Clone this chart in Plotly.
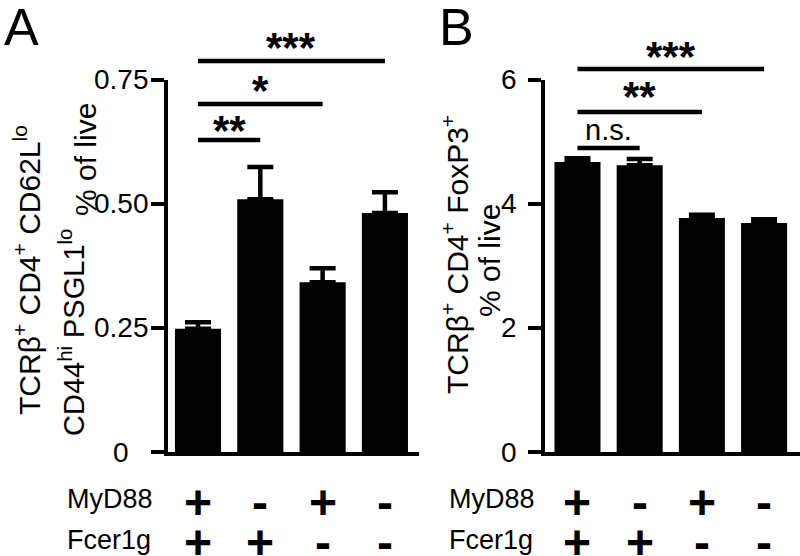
import plotly.graph_objects as go

W, H = 800, 556

# ---- data ----
groups = [0, 1, 2, 3]
myd88 = ["+", "-", "+", "-"]
fcer1g = ["+", "+", "-", "-"]

a_mean = [0.248, 0.509, 0.342, 0.481]
a_sem = [0.013, 0.065, 0.028, 0.042]
b_mean = [4.67, 4.62, 3.77, 3.69]
b_sem = [0.06, 0.10, 0.05, 0.06]

a_ticks = [0, 0.25, 0.5, 0.75]
a_ticktext = ["0", "0.25", "0.50", "0.75"]
b_ticks = [0, 2, 4, 6]
b_ticktext = ["0", "2", "4", "6"]

a_sig_pairs = [(0, 1), (0, 2), (0, 3)]
a_sig_text = ["**", "*", "***"]
b_sig_pairs = [(0, 1), (0, 2), (0, 3)]
b_sig_text = ["n.s.", "**", "***"]

FONT = "Liberation Sans, Arial, Helvetica, sans-serif"


def px(x):
    return x / W


def py(y):
    return 1 - y / H


fig = go.Figure()

for mean, sem, xa, ya in [(a_mean, a_sem, "x", "y"), (b_mean, b_sem, "x2", "y2")]:
    fig.add_trace(go.Bar(
        x=groups, y=mean, width=0.74, xaxis=xa, yaxis=ya,
        marker=dict(color="black", line=dict(width=0)),
        error_y=dict(type="data", symmetric=False, array=sem,
                     arrayminus=[0] * len(sem), color="black",
                     thickness=4.5, width=13),
        hoverinfo="skip",
    ))

ydom = [py(452), py(79.5)]
axis_common = dict(showgrid=False, zeroline=False, showline=True,
                   linecolor="black", linewidth=4, fixedrange=True)

fig.update_layout(
    width=W, height=H,
    margin=dict(l=0, r=0, t=0, b=0),
    paper_bgcolor="white", plot_bgcolor="white",
    showlegend=False,
    font=dict(family=FONT, color="black"),
    xaxis=dict(domain=[px(168), px(419)], range=[-0.4815, 3.547],
               showticklabels=False, ticks="", anchor="y", **axis_common),
    yaxis=dict(domain=ydom, range=[0, 0.75], anchor="x",
               tickvals=a_ticks, ticks="outside", ticklen=13, tickwidth=4,
               tickcolor="black", showticklabels=False, **axis_common),
    xaxis2=dict(domain=[px(545), 1.0], range=[-0.522, 3.577],
                showticklabels=False, ticks="", anchor="y2", **axis_common),
    yaxis2=dict(domain=ydom, range=[0, 6], anchor="x2",
                tickvals=b_ticks, ticks="outside", ticklen=13, tickwidth=4,
                tickcolor="black", showticklabels=False, **axis_common),
)

ann = []
shapes = []

# tick labels (centered, as in the reference)
for v, t in zip(a_ticks, a_ticktext):
    ann.append(dict(x=px(121), y=v, xref="paper", yref="y", text=t,
                    showarrow=False, xanchor="center", yanchor="middle",
                    font=dict(size=28)))
for v, t in zip(b_ticks, b_ticktext):
    ann.append(dict(x=px(509), y=v, xref="paper", yref="y2", text=t,
                    showarrow=False, xanchor="center", yanchor="middle",
                    font=dict(size=28)))


# significance lines
def sig(pairs, texts, xref, line_y, text_y, sizes):
    for (i, j), t, ly, ty, s in zip(pairs, texts, line_y, text_y, sizes):
        shapes.append(dict(type="line", xref=xref, yref="paper",
                           x0=groups[i], x1=groups[j], y0=py(ly), y1=py(ly),
                           line=dict(color="black", width=4.5)))
        bold = t != "n.s."
        ann.append(dict(x=(groups[i] + groups[j]) / 2, y=py(ty), xref=xref,
                        yref="paper", text=t,
                        showarrow=False, xanchor="center", yanchor="middle",
                        font=dict(size=s, weight="bold" if bold else "normal")))


sig(a_sig_pairs, a_sig_text, "x", [140, 104, 61], [130, 90, 47], [42, 42, 42])
sig(b_sig_pairs, b_sig_text, "x2", [148, 112, 69], [130, 96, 56], [29, 42, 42])

# panel letters
ann.append(dict(x=px(21), y=py(27), xref="paper", yref="paper", text="A",
                showarrow=False, xanchor="center", yanchor="middle",
                height=46, font=dict(size=52)))
ann.append(dict(x=px(456.5), y=py(27), xref="paper", yref="paper", text="B",
                showarrow=False, xanchor="center", yanchor="middle",
                height=46, font=dict(size=52)))

# y axis titles
TS = 30
ann.append(dict(x=px(27), y=py(270), xref="paper", yref="paper",
                text="TCRβ<sup>+</sup> CD4<sup>+</sup> CD62L<sup>lo</sup>",
                textangle=-90, showarrow=False, xanchor="center",
                yanchor="middle", font=dict(size=TS)))
ann.append(dict(x=px(72), y=py(333), xref="paper", yref="paper",
                text="CD44<sup>hi</sup> PSGL1<sup>lo</sup>",
                textangle=-90, showarrow=False, xanchor="center",
                yanchor="middle", font=dict(size=29)))
ann.append(dict(x=px(85), y=py(160), xref="paper", yref="paper",
                text="% of live", textangle=-90, showarrow=False,
                xanchor="center", yanchor="middle", font=dict(size=TS)))
ann.append(dict(x=px(455), y=py(255), xref="paper", yref="paper",
                text="TCRβ<sup>+</sup> CD4<sup>+</sup> FoxP3<sup>+</sup>",
                textangle=-90, showarrow=False, xanchor="center",
                yanchor="middle", font=dict(size=TS)))
ann.append(dict(x=px(489), y=py(260), xref="paper", yref="paper",
                text="% of live", textangle=-90, showarrow=False,
                xanchor="center", yanchor="middle", font=dict(size=TS)))

# genotype table
for left, xref in [(65, "x"), (447, "x2")]:
    ann.append(dict(x=px(left), y=py(499), xref="paper", yref="paper",
                    text="MyD88", showarrow=False, xanchor="left",
                    yanchor="middle", font=dict(size=27)))
    ann.append(dict(x=px(left), y=py(540), xref="paper", yref="paper",
                    text="Fcer1g", showarrow=False, xanchor="left",
                    yanchor="middle", font=dict(size=27)))
    for g, m, f in zip(groups, myd88, fcer1g):
        ann.append(dict(x=g, y=py(502), xref=xref, yref="paper",
                        text=m, showarrow=False, height=38,
                        xanchor="center", yanchor="middle",
                        font=dict(size=48, weight="bold")))
        ann.append(dict(x=g, y=py(542), xref=xref, yref="paper",
                        text=f, showarrow=False, height=26,
                        xanchor="center", yanchor="middle",
                        font=dict(size=48, weight="bold")))

fig.update_layout(annotations=ann, shapes=shapes)
fig.write_html(
    "out.html",
    config={"displayModeBar": False},
    post_script="document.body.style.margin='0';document.body.style.padding='0';"
                "document.body.style.overflow='hidden';",
)
